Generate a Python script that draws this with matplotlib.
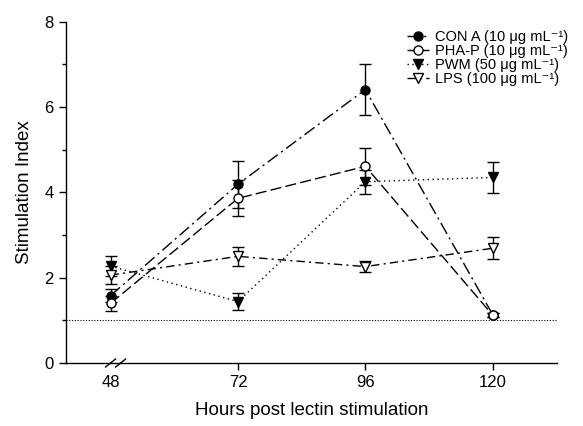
import matplotlib
matplotlib.use("Agg")
import matplotlib.pyplot as plt
from matplotlib.ticker import MultipleLocator

plt.rcParams['font.family'] = ['Liberation Sans', 'DejaVu Sans']

# datos
horas = [48, 72, 96, 120]

con_a = [1.58, 4.19, 6.41, 1.13]
con_a_err = [0.15, 0.55, 0.60, 0.05]

pha_p = [1.40, 3.86, 4.61, 1.12]
pha_p_err = [0.17, 0.42, 0.44, 0.05]

pwm = [2.27, 1.44, 4.25, 4.35]
pwm_err = [0.23, 0.20, 0.28, 0.36]

lps = [2.06, 2.50, 2.26, 2.69]
lps_err = [0.21, 0.22, 0.13, 0.26]

etiquetas = ['CON A (10 μg mL⁻¹)', 'PHA-P (10 μg mL⁻¹)',
             'PWM (50 μg mL⁻¹)', 'LPS (100 μg mL⁻¹)']

fig = plt.figure(figsize=(5.83, 4.26), dpi=100)
ax = fig.add_axes([0.1132, 0.1479, 0.8422, 0.8011])

series = [
    (con_a, con_a_err, 'o', 'black', (0, (9, 3, 1.5, 3))),
    (pha_p, pha_p_err, 'o', 'white', (0, (8, 3))),
    (pwm, pwm_err, 'v', 'black', (0, (1, 2.5))),
    (lps, lps_err, 'v', 'white', (0, (6, 3, 1.5, 3))),
]

for (vals, errs, mk, fc, ls), lab in zip(series, etiquetas):
    ax.errorbar(horas, vals, yerr=errs, fmt='none', ecolor='black',
                elinewidth=1, capsize=4, capthick=1, zorder=2)
    ax.plot(horas, vals, linestyle=ls, color='black', linewidth=1,
            marker=mk, markersize=6.5, markerfacecolor=fc,
            markeredgecolor='black', markeredgewidth=1, label=lab, zorder=3)

ax.axhline(1, color='black', linestyle=(0, (1, 1.5)), linewidth=0.8, zorder=1)

ax.set_xlim(39.6, 132.1)
ax.set_ylim(0, 8)
ax.set_xticks(horas)
ax.set_xticklabels([str(h) for h in horas])
ax.yaxis.set_major_locator(MultipleLocator(2))
ax.yaxis.set_minor_locator(MultipleLocator(1))

for s in ['top', 'right']:
    ax.spines[s].set_visible(False)
ax.spines['left'].set_linewidth(1)
ax.spines['bottom'].set_linewidth(1)

ax.tick_params(axis='both', which='major', direction='out', length=5,
               width=1, labelsize=12, pad=4)
ax.tick_params(axis='y', which='minor', direction='out', length=3, width=1)
ax.xaxis.get_major_ticks()[0].tick1line.set_visible(False)

# marca de corte del eje x
for xc in [48, 49.9]:
    ax.plot([xc - 0.94, xc + 0.94], [-0.094, 0.094], color='black',
            linewidth=1, clip_on=False, zorder=5)

ax.set_xlabel('Hours post lectin stimulation', fontsize=13.5, labelpad=8)
ax.set_ylabel('Stimulation Index', fontsize=13.5, labelpad=8)

leg = ax.legend(loc='upper right', bbox_to_anchor=(1.04, 1.0), frameon=False,
                fontsize=10.5, handlelength=1.5, handletextpad=0.4,
                labelspacing=0.0, borderaxespad=0.2)

fig.savefig('out.png', dpi=100)
